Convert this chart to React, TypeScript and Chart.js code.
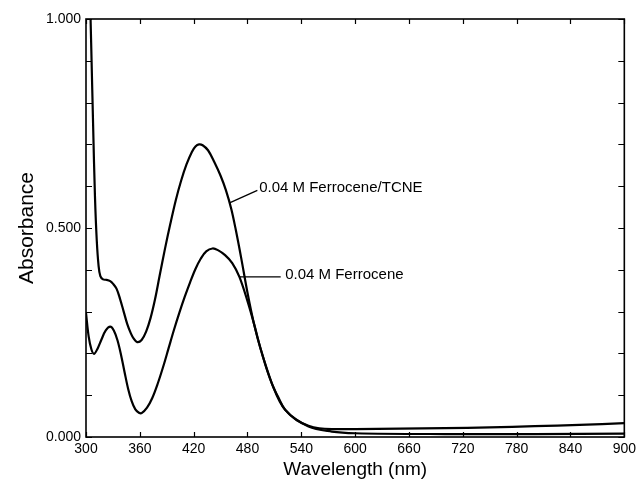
import React, { useEffect, useRef } from 'react';
import { Chart, registerables } from 'chart.js';

Chart.register(...registerables);

// ---- Data ----
const tcneLabel = '0.04 M Ferrocene/TCNE';
const tcneWavelengths = [300, 304, 306, 308, 310, 312, 314, 316, 319, 323, 327, 330, 334, 338, 342, 346, 350, 353, 357, 362, 367, 372, 377, 382, 388, 394, 400, 406, 412, 418, 422, 426, 430, 436, 443, 450, 456, 462, 467, 473, 480, 487, 495, 507, 515, 522, 535, 548, 560, 574, 600, 650, 700, 750, 800, 850, 900];
const tcneAbsorbance = [1.5, 1.1, 0.92, 0.74, 0.575, 0.47, 0.41, 0.385, 0.377, 0.376, 0.373, 0.367, 0.355, 0.33, 0.3, 0.27, 0.248, 0.236, 0.227, 0.232, 0.252, 0.285, 0.33, 0.385, 0.45, 0.51, 0.566, 0.613, 0.652, 0.682, 0.695, 0.7, 0.698, 0.686, 0.658, 0.625, 0.59, 0.545, 0.495, 0.428, 0.345, 0.273, 0.208, 0.129, 0.092, 0.065, 0.04, 0.027, 0.021, 0.019, 0.019, 0.02, 0.021, 0.023, 0.026, 0.029, 0.033];

const fcLabel = '0.04 M Ferrocene';
const fcWavelengths = [300, 303, 306, 309, 313, 317, 322, 327, 331, 335, 339, 343, 347, 351, 355, 359, 362, 368, 374, 380, 386, 392, 398, 404, 410, 416, 422, 428, 434, 441, 447, 455, 463, 471, 480, 487, 495, 507, 522, 548, 574, 600, 700, 800, 900];
const fcAbsorbance = [0.297, 0.24, 0.21, 0.199, 0.212, 0.232, 0.255, 0.264, 0.255, 0.232, 0.197, 0.155, 0.115, 0.085, 0.066, 0.058, 0.057, 0.07, 0.094, 0.128, 0.168, 0.212, 0.256, 0.297, 0.335, 0.37, 0.402, 0.427, 0.444, 0.451, 0.447, 0.435, 0.416, 0.383, 0.325, 0.273, 0.208, 0.129, 0.065, 0.025, 0.013, 0.009, 0.007, 0.007, 0.008];

const xMin = 300;
const xMax = 900;
const xStep = 60;
const yMin = 0;
const yMax = 1;
const yStep = 0.1;
const yLabelEvery = 5; // label every 0.5

const xTitle = 'Wavelength (nm)';
const yTitle = 'Absorbance';

// Callout labels: curve point -> elbow -> text (data coordinates)
const callouts = [
  { text: tcneLabel, from: [460, 0.56], to: [491, 0.59], at: [493, 0.595] },
  { text: fcLabel, from: [471, 0.383], to: [517, 0.383], at: [522, 0.388] },
];

const FONT = '"Liberation Sans", Arial, Helvetica, sans-serif';

const framePlugin = {
  id: 'frameAndCallouts',
  afterDatasetsDraw(chart: any) {
    const { ctx, chartArea: a, scales } = chart;
    const x = scales.x;
    const y = scales.y;
    ctx.save();
    ctx.strokeStyle = '#000';
    ctx.lineWidth = 1.6;
    ctx.strokeRect(a.left, a.top, a.right - a.left, a.bottom - a.top);
    ctx.lineWidth = 1.2;
    ctx.beginPath();
    x.ticks.forEach((t: any) => {
      const px = Math.round(x.getPixelForValue(t.value)) + 0.5;
      ctx.moveTo(px, a.bottom);
      ctx.lineTo(px, a.bottom - 5);
      ctx.moveTo(px, a.top);
      ctx.lineTo(px, a.top + 5);
    });
    y.ticks.forEach((t: any) => {
      const py = Math.round(y.getPixelForValue(t.value)) + 0.5;
      ctx.moveTo(a.left, py);
      ctx.lineTo(a.left + 6, py);
      ctx.moveTo(a.right, py);
      ctx.lineTo(a.right - 6, py);
    });
    ctx.stroke();

    ctx.lineWidth = 1.3;
    ctx.fillStyle = '#000';
    ctx.font = `15px ${FONT}`;
    ctx.textAlign = 'left';
    ctx.textBaseline = 'middle';
    callouts.forEach((c) => {
      ctx.beginPath();
      ctx.moveTo(x.getPixelForValue(c.from[0]), y.getPixelForValue(c.from[1]));
      ctx.lineTo(x.getPixelForValue(c.to[0]), y.getPixelForValue(c.to[1]));
      ctx.stroke();
      ctx.fillText(c.text, x.getPixelForValue(c.at[0]), y.getPixelForValue(c.at[1]));
    });
    ctx.restore();
  },
};

export default function App() {
  const canvasRef = useRef<HTMLCanvasElement | null>(null);

  useEffect(() => {
    if (!canvasRef.current) return;
    const toPoints = (xs: number[], ys: number[]) => xs.map((v, i) => ({ x: v, y: ys[i] }));
    const chart = new Chart(canvasRef.current, {
      type: 'line',
      data: {
        datasets: [
          {
            label: tcneLabel,
            data: toPoints(tcneWavelengths, tcneAbsorbance),
            borderColor: '#000',
            borderWidth: 2.2,
            pointRadius: 0,
            tension: 0.35,
            fill: false,
          },
          {
            label: fcLabel,
            data: toPoints(fcWavelengths, fcAbsorbance),
            borderColor: '#000',
            borderWidth: 2.2,
            pointRadius: 0,
            tension: 0.35,
            fill: false,
          },
        ],
      },
      options: {
        responsive: false,
        animation: false,
        layout: { padding: { top: 19, right: 13, left: 0, bottom: 0 } },
        plugins: {
          legend: { display: false },
          tooltip: { enabled: false },
        },
        scales: {
          x: {
            type: 'linear',
            min: xMin,
            max: xMax,
            grid: { display: false, drawTicks: false },
            border: { display: false },
            ticks: {
              stepSize: xStep,
              autoSkip: false,
              maxRotation: 0,
              padding: 4,
              color: '#000',
              font: { family: FONT, size: 14 },
              callback: (v: any) => String(v),
            },
            title: {
              display: true,
              text: xTitle,
              color: '#000',
              font: { family: FONT, size: 19 },
              padding: { top: 0, bottom: 1 },
            },
            afterFit: (s: any) => {
              s.height = 45;
            },
          },
          y: {
            type: 'linear',
            min: yMin,
            max: yMax,
            grid: { display: false, drawTicks: false },
            border: { display: false },
            ticks: {
              stepSize: yStep,
              autoSkip: false,
              padding: 5,
              color: '#000',
              font: { family: FONT, size: 14 },
              callback: (v: any) => {
                const k = Math.round(Number(v) / yStep);
                return k % yLabelEvery === 0 ? Number(v).toFixed(3) : '';
              },
            },
            title: {
              display: true,
              text: yTitle,
              color: '#000',
              font: { family: FONT, size: 21 },
              padding: { top: 15, bottom: 0 },
            },
            afterFit: (s: any) => {
              s.width = 86;
            },
          },
        },
      },
      plugins: [framePlugin],
    } as any);
    return () => chart.destroy();
  }, []);

  return (
    <div style={{ position: 'fixed', left: 0, top: 0, width: 640, height: 482, background: '#fff' }}>
      <canvas ref={canvasRef} width={640} height={482} style={{ display: 'block' }} />
    </div>
  );
}
